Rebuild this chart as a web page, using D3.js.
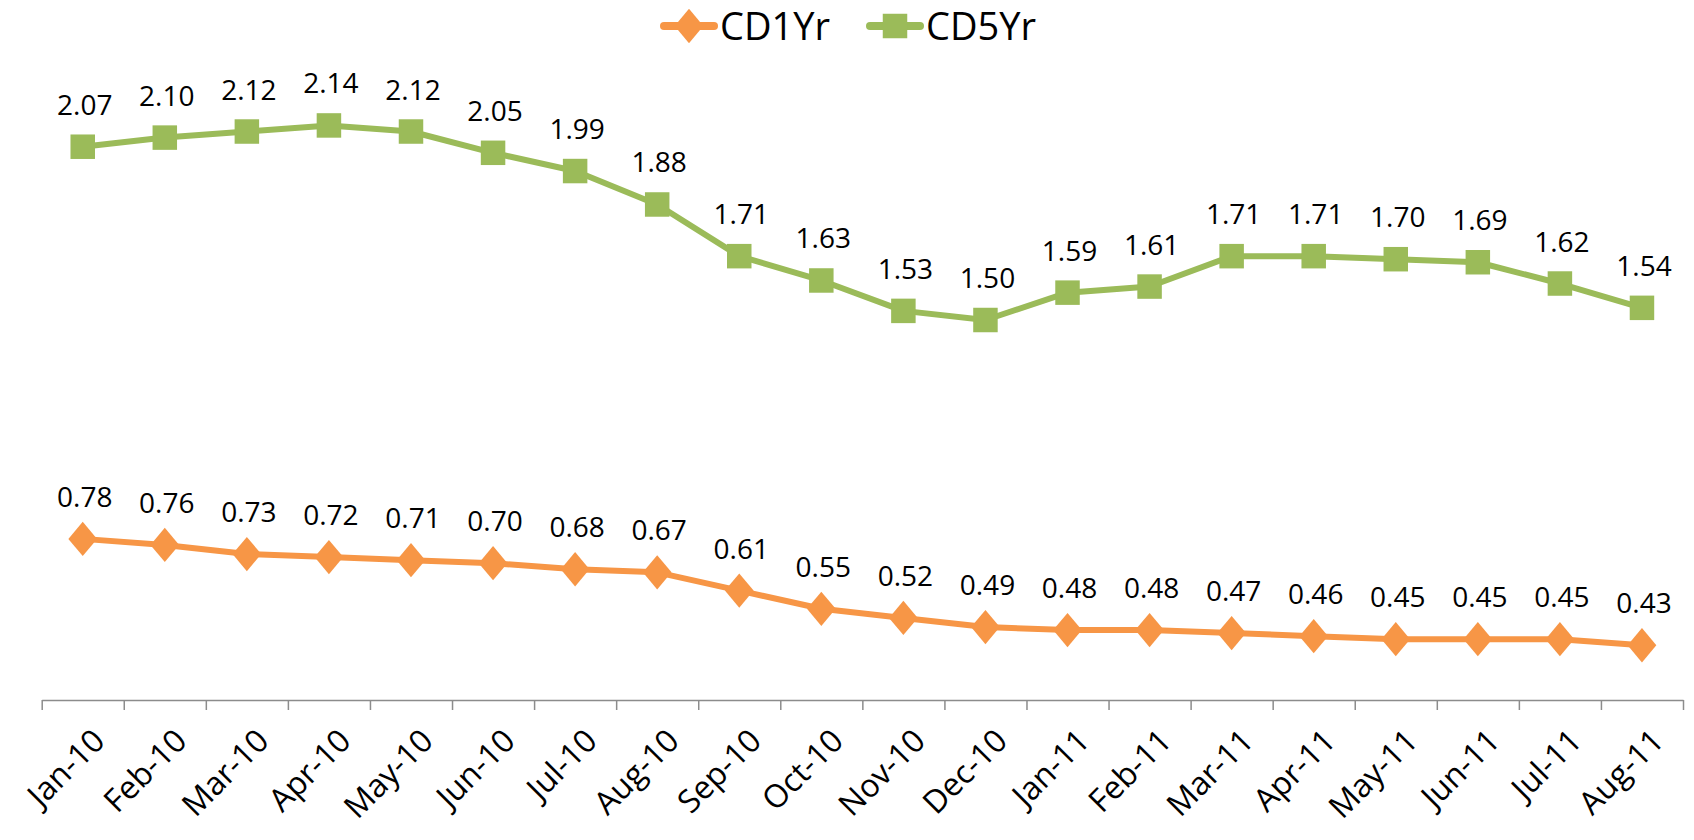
<!DOCTYPE html>
<html>
<head>
<meta charset="utf-8">
<script src="https://cdn.jsdelivr.net/npm/d3@7"></script>
<style>
  body { margin: 0; background: #fff; }
  text { font-family: "Open Sans", sans-serif; fill: #000; }
</style>
</head>
<body>
<script>
var months = ["Jan-10","Feb-10","Mar-10","Apr-10","May-10","Jun-10","Jul-10","Aug-10","Sep-10","Oct-10",
              "Nov-10","Dec-10","Jan-11","Feb-11","Mar-11","Apr-11","May-11","Jun-11","Jul-11","Aug-11"];
var cd1 = [0.78,0.76,0.73,0.72,0.71,0.70,0.68,0.67,0.61,0.55,0.52,0.49,0.48,0.48,0.47,0.46,0.45,0.45,0.45,0.43];
var cd5 = [2.07,2.10,2.12,2.14,2.12,2.05,1.99,1.88,1.71,1.63,1.53,1.50,1.59,1.61,1.71,1.71,1.70,1.69,1.62,1.54];
var seriesNames = ["CD1Yr","CD5Yr"];

var orange = "#F79646", green = "#9BBB59";

var svg = d3.select("body").append("svg")
    .attr("width", 1694)
    .attr("height", 840);

var left = 41.7, right = 1683, axisY = 700;

var x = d3.scaleBand().domain(months).range([left, right]);
var xt = d3.scaleLinear().domain([0, months.length]).range([left, right]);
var y = d3.scaleLinear().domain([0.25, 2.25]).range([axisY, 92]);

function cx(i) { return x(months[i]) + x.bandwidth() / 2; }

// axis with ticks between categories
var axis = svg.append("g")
    .attr("transform", "translate(0," + axisY + ")")
    .call(d3.axisBottom(xt).tickValues(d3.range(0, months.length + 1))
        .tickSizeInner(10).tickSizeOuter(0).tickFormat(""));
axis.select(".domain").attr("stroke", "#8c8c8c").attr("stroke-width", 1.5);
axis.selectAll(".tick line").attr("stroke", "#8c8c8c").attr("stroke-width", 1.5);

// category labels
svg.append("g").selectAll("text")
    .data(months)
    .enter().append("text")
    .attr("transform", function(d, i) { return "translate(" + (cx(i) + 8) + "," + (axisY + 27) + ") rotate(-45)"; })
    .attr("text-anchor", "end")
    .attr("dy", "0.7em")
    .style("font-size", "32px")
    .text(function(d) { return d; });

var line = d3.line()
    .x(function(d, i) { return cx(i); })
    .y(function(d) { return y(d); });

function drawSeries(vals, color, shape) {
  svg.append("path")
      .attr("d", line(vals))
      .attr("fill", "none")
      .attr("stroke", color)
      .attr("stroke-width", 6)
      .attr("stroke-linejoin", "round");

  var sym = d3.symbol().type(shape === "square" ? d3.symbolSquare : d3.symbolDiamond)
      .size(shape === "square" ? 600 : 340);
  svg.append("g").selectAll("path")
      .data(vals)
      .enter().append("path")
      .attr("d", sym)
      .attr("transform", function(d, i) {
        return "translate(" + cx(i) + "," + y(d) + ")" + (shape === "square" ? "" : " scale(1.45,1)");
      })
      .attr("fill", color);

  svg.append("g").selectAll("text")
      .data(vals)
      .enter().append("text")
      .attr("x", function(d, i) { return cx(i) + 2; })
      .attr("y", function(d) { return y(d) - 32; })
      .attr("text-anchor", "middle")
      .style("font-size", "28px")
      .text(function(d) { return d.toFixed(2); });
}

drawSeries(cd5, green, "square");
drawSeries(cd1, orange, "diamond");

// legend
var legendItems = [
  { name: seriesNames[0], color: orange, shape: "diamond", x: 660 },
  { name: seriesNames[1], color: green, shape: "square", x: 866 }
];
var lg = svg.append("g").selectAll("g")
    .data(legendItems)
    .enter().append("g")
    .attr("transform", function(d) { return "translate(" + d.x + ",26)"; });
lg.append("line")
    .attr("x1", 4).attr("x2", 54)
    .attr("stroke", function(d) { return d.color; })
    .attr("stroke-width", 8)
    .attr("stroke-linecap", "round");
lg.append("path")
    .attr("d", function(d) {
      return d3.symbol().type(d.shape === "square" ? d3.symbolSquare : d3.symbolDiamond)
        .size(d.shape === "square" ? 600 : 340)();
    })
    .attr("transform", function(d) { return "translate(29,0)" + (d.shape === "square" ? "" : " scale(1.45,1)"); })
    .attr("fill", function(d) { return d.color; });
lg.append("text")
    .attr("x", 60)
    .attr("dy", "0.36em")
    .style("font-size", "38px")
    .text(function(d) { return d.name; });
</script>
</body>
</html>
